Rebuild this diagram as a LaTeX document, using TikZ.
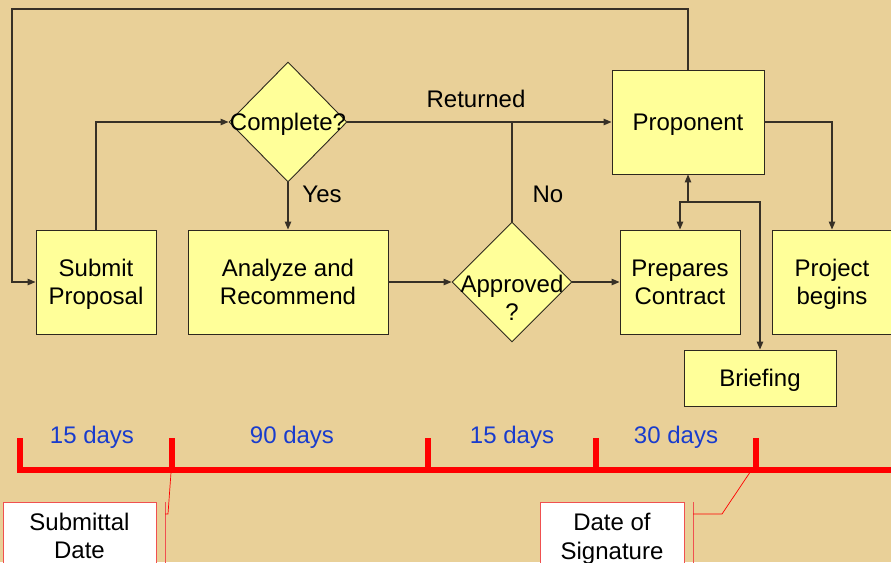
\documentclass[tikz,border=0pt]{standalone}
\usepackage{fontspec}
\setmainfont{Liberation Sans}
\usetikzlibrary{shapes.geometric,arrows.meta}
\definecolor{parch}{RGB}{233,208,152}
\definecolor{boxfill}{RGB}{255,255,153}
\definecolor{boxline}{RGB}{45,40,30}
\definecolor{lineclr}{RGB}{55,48,38}
\definecolor{dayblue}{RGB}{25,60,205}
\definecolor{calred}{RGB}{240,80,80}
\newcommand\mainsize{\fontsize{24}{28.5}\selectfont}
\tikzset{
  box/.style={draw=boxline, fill=boxfill, line width=0.9pt, inner sep=0pt, align=center, font=\mainsize, text depth=0pt},
  dia/.style={diamond, draw=boxline, fill=boxfill, line width=0.9pt, inner sep=0pt},
  conn/.style={draw=lineclr, line width=1.1pt},
  arr/.style={conn, -{Triangle[length=8pt,width=6.5pt]}},
  lbl/.style={font=\mainsize, anchor=base, inner sep=0pt, align=center},
  days/.style={lbl, text=dayblue},
  tline/.style={draw=red, line width=6pt},
  cbox/.style={draw=calred, fill=white, line width=1pt, inner sep=0pt},
  accent/.style={draw=calred, line width=1pt},
  leader/.style={draw=red, line width=0.7pt}
}
\begin{document}
\begin{tikzpicture}[x=1pt,y=-1pt]
\useasboundingbox (0,0) rectangle (891,562);
\fill[parch] (0,0) rectangle (891,562);
\clip (0,0) rectangle (891,562);

% boxes
\node[box, minimum width=120, minimum height=104] (submit) at (96,282) {Submit\\Proposal};
\node[box, minimum width=200, minimum height=104] (analyze) at (288,282) {Analyze and\\Recommend};
\node[box, minimum width=120, minimum height=104] (prepares) at (680,282) {Prepares\\Contract};
\node[box, minimum width=120, minimum height=104] (project) at (832,282) {Project\\begins};
\node[box, minimum width=152, minimum height=56] (briefing) at (760,378) {Briefing};
\node[box, minimum width=152, minimum height=104] (proponent) at (688,122) {Proponent};

% diamonds
\node[dia, minimum width=118, minimum height=120] (complete) at (288,122) {};
\node[font=\mainsize, inner sep=0pt, text depth=0pt] at (complete) {Complete?};
\node[dia, minimum width=120, minimum height=120] (approved) at (512,282) {};
\node[font=\mainsize, inner sep=0pt, align=center, anchor=north] at (512,274.5) {Approved\\?};

% connectors
\coordinate (tl) at (12,9);
\draw[arr] (proponent.north) |- (tl) |- (submit.west);
\draw[arr] (submit.north) |- (complete.west);
\draw[arr] (complete.east) -- (proponent.west);
\draw[arr] (complete.south) -- (analyze.north);
\draw[arr] (analyze.east) -- (approved.west);
\draw[arr] (approved.east) -- (prepares.west);
\draw[conn] (approved.north) -- (approved.north |- complete.east);
\draw[arr] (proponent.east) -| (project.north);
\coordinate (j) at (688,202);
\draw[arr] (j) -- (proponent.south);
\draw[arr] (j) -| (prepares.north);
\draw[arr] (j) -| (briefing.north);

% labels
\node[lbl] (returned) at (476,107) {Returned};
\node[lbl] (yes) at (322,202) {Yes};
\node[lbl] (no) at (548,202) {No};

% timeline
\draw[tline] (17,469.5) -- (900,469.5);
\foreach \x in {20,172,428,596,755.5} {
  \draw[tline] (\x,438) -- (\x,472.5);
}
\node[days] (d1) at (92,443) {15 days};
\node[days] (d2) at (292,443) {90 days};
\node[days] (d3) at (512,443) {15 days};
\node[days] (d4) at (676,443) {30 days};
\coordinate (t2) at (171,472.5);
\coordinate (t5) at (749.5,473);

% callouts
\node[cbox, minimum width=153, minimum height=80, anchor=north west] (subdate) at (3,502) {};
\node[font=\mainsize, inner sep=0pt, align=center, anchor=north] at (79.5,512.5) {Submittal\\Date};
\draw[accent] ([xshift=8pt]subdate.north east) -- ++(0,80);
\draw[leader] ([xshift=8pt,yshift=-12pt]subdate.north east) -- ++(3,0) -- (t2);

\node[cbox, minimum width=144, minimum height=80, anchor=north west] (sigdate) at (540,502) {};
\node[font=\mainsize, inner sep=0pt, align=center, anchor=north] at (612,513) {Date of\\Signature};
\draw[accent] ([xshift=8pt]sigdate.north east) -- ++(0,80);
\draw[leader] ([xshift=8pt,yshift=-12pt]sigdate.north east) -- ++(29,0) -- (t5);
\end{tikzpicture}
\end{document}
